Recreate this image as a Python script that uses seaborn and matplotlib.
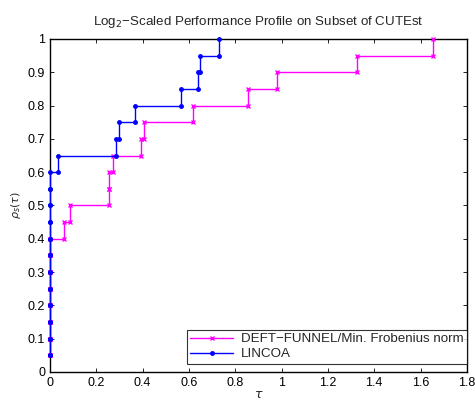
import numpy as np
import pandas as pd
import matplotlib
matplotlib.use("Agg")
import matplotlib.pyplot as plt
import seaborn as sns

# log2 performance ratios (sorted) per solver, 20 problems
deft_ratios = [0, 0, 0, 0, 0, 0, 0, 0, 0.060, 0.086, 0.254, 0.254, 0.272,
               0.393, 0.406, 0.618, 0.856, 0.979, 1.326, 1.655]
lincoa_ratios = [0, 0, 0, 0, 0, 0, 0, 0, 0, 0, 0, 0, 0.036, 0.287, 0.298,
                 0.369, 0.566, 0.641, 0.649, 0.732]
solvers = ["DEFT\u2212FUNNEL/Min. Frobenius norm", "LINCOA"]
colors = ["#ff00ff", "#0000ff"]
markers = ["x", "."]
xticks = [0, 0.2, 0.4, 0.6, 0.8, 1, 1.2, 1.4, 1.6, 1.8]
xticklabels = ["0", "0.2", "0.4", "0.6", "0.8", "1", "1.2", "1.4", "1.6", "1.8"]
yticks = [0, 0.1, 0.2, 0.3, 0.4, 0.5, 0.6, 0.7, 0.8, 0.9, 1]
yticklabels = ["0", "0.1", "0.2", "0.3", "0.4", "0.5", "0.6", "0.7", "0.8", "0.9", "1"]


def stairs(r):
    r = np.asarray(r, float)
    n = len(r)
    y = np.arange(1, n + 1) / n
    xs = np.empty(2 * n - 1)
    ys = np.empty(2 * n - 1)
    xs[0::2] = r
    ys[0::2] = y
    xs[1::2] = r[1:]
    ys[1::2] = y[:-1]
    return xs, ys


sns.set_style("ticks")
plt.rcParams["font.family"] = ["Liberation Sans", "DejaVu Sans"]
plt.rcParams["mathtext.fontset"] = "dejavusans"
plt.rcParams["xtick.direction"] = "in"
plt.rcParams["ytick.direction"] = "in"

fig = plt.figure(figsize=(4.75, 4.0), dpi=100)
ax = fig.add_axes([0.105, 0.07, 0.878, 0.8325])

for name, r, c, m in zip(solvers, [deft_ratios, lincoa_ratios], colors, markers):
    xs, ys = stairs(r)
    df = pd.DataFrame({"tau": xs, "rho": ys})
    sns.lineplot(data=df, x="tau", y="rho", sort=False, estimator=None,
                 color=c, lw=1.0, marker=m, markersize=3.5 if m == "x" else 5,
                 markeredgewidth=1.0, markeredgecolor=c, label=name, ax=ax,
                 clip_on=False, zorder=3)

ax.set_xlim(0, 1.8)
ax.set_ylim(0, 1)
ax.set_xticks(xticks)
ax.set_xticklabels(xticklabels)
ax.set_yticks(yticks)
ax.set_yticklabels(yticklabels)
ax.tick_params(axis="both", labelsize=9, length=3, width=0.6, top=True, right=True,
               colors="black")
for s in ax.spines.values():
    s.set_visible(True)
    s.set_linewidth(1.0)
    s.set_color("black")
    s.set_zorder(2)

ax.set_title("Log$_2$\u2212Scaled Performance Profile on Subset of CUTEst", fontsize=9.6, pad=10)
ax.set_xlabel(r"$\tau$", fontsize=9, labelpad=0)
ax.set_ylabel(r"$\rho_s(\tau)$", fontsize=8, labelpad=3)

leg = ax.legend(loc="lower right", bbox_to_anchor=(1.0, 0.025), fontsize=9.6,
                frameon=True, fancybox=False, borderaxespad=0.0, handlelength=3.2,
                numpoints=1, borderpad=0.25, labelspacing=0.2, handletextpad=0.6)
leg.get_frame().set_edgecolor("black")
leg.get_frame().set_linewidth(0.8)

fig.savefig("out.png", dpi=100)
